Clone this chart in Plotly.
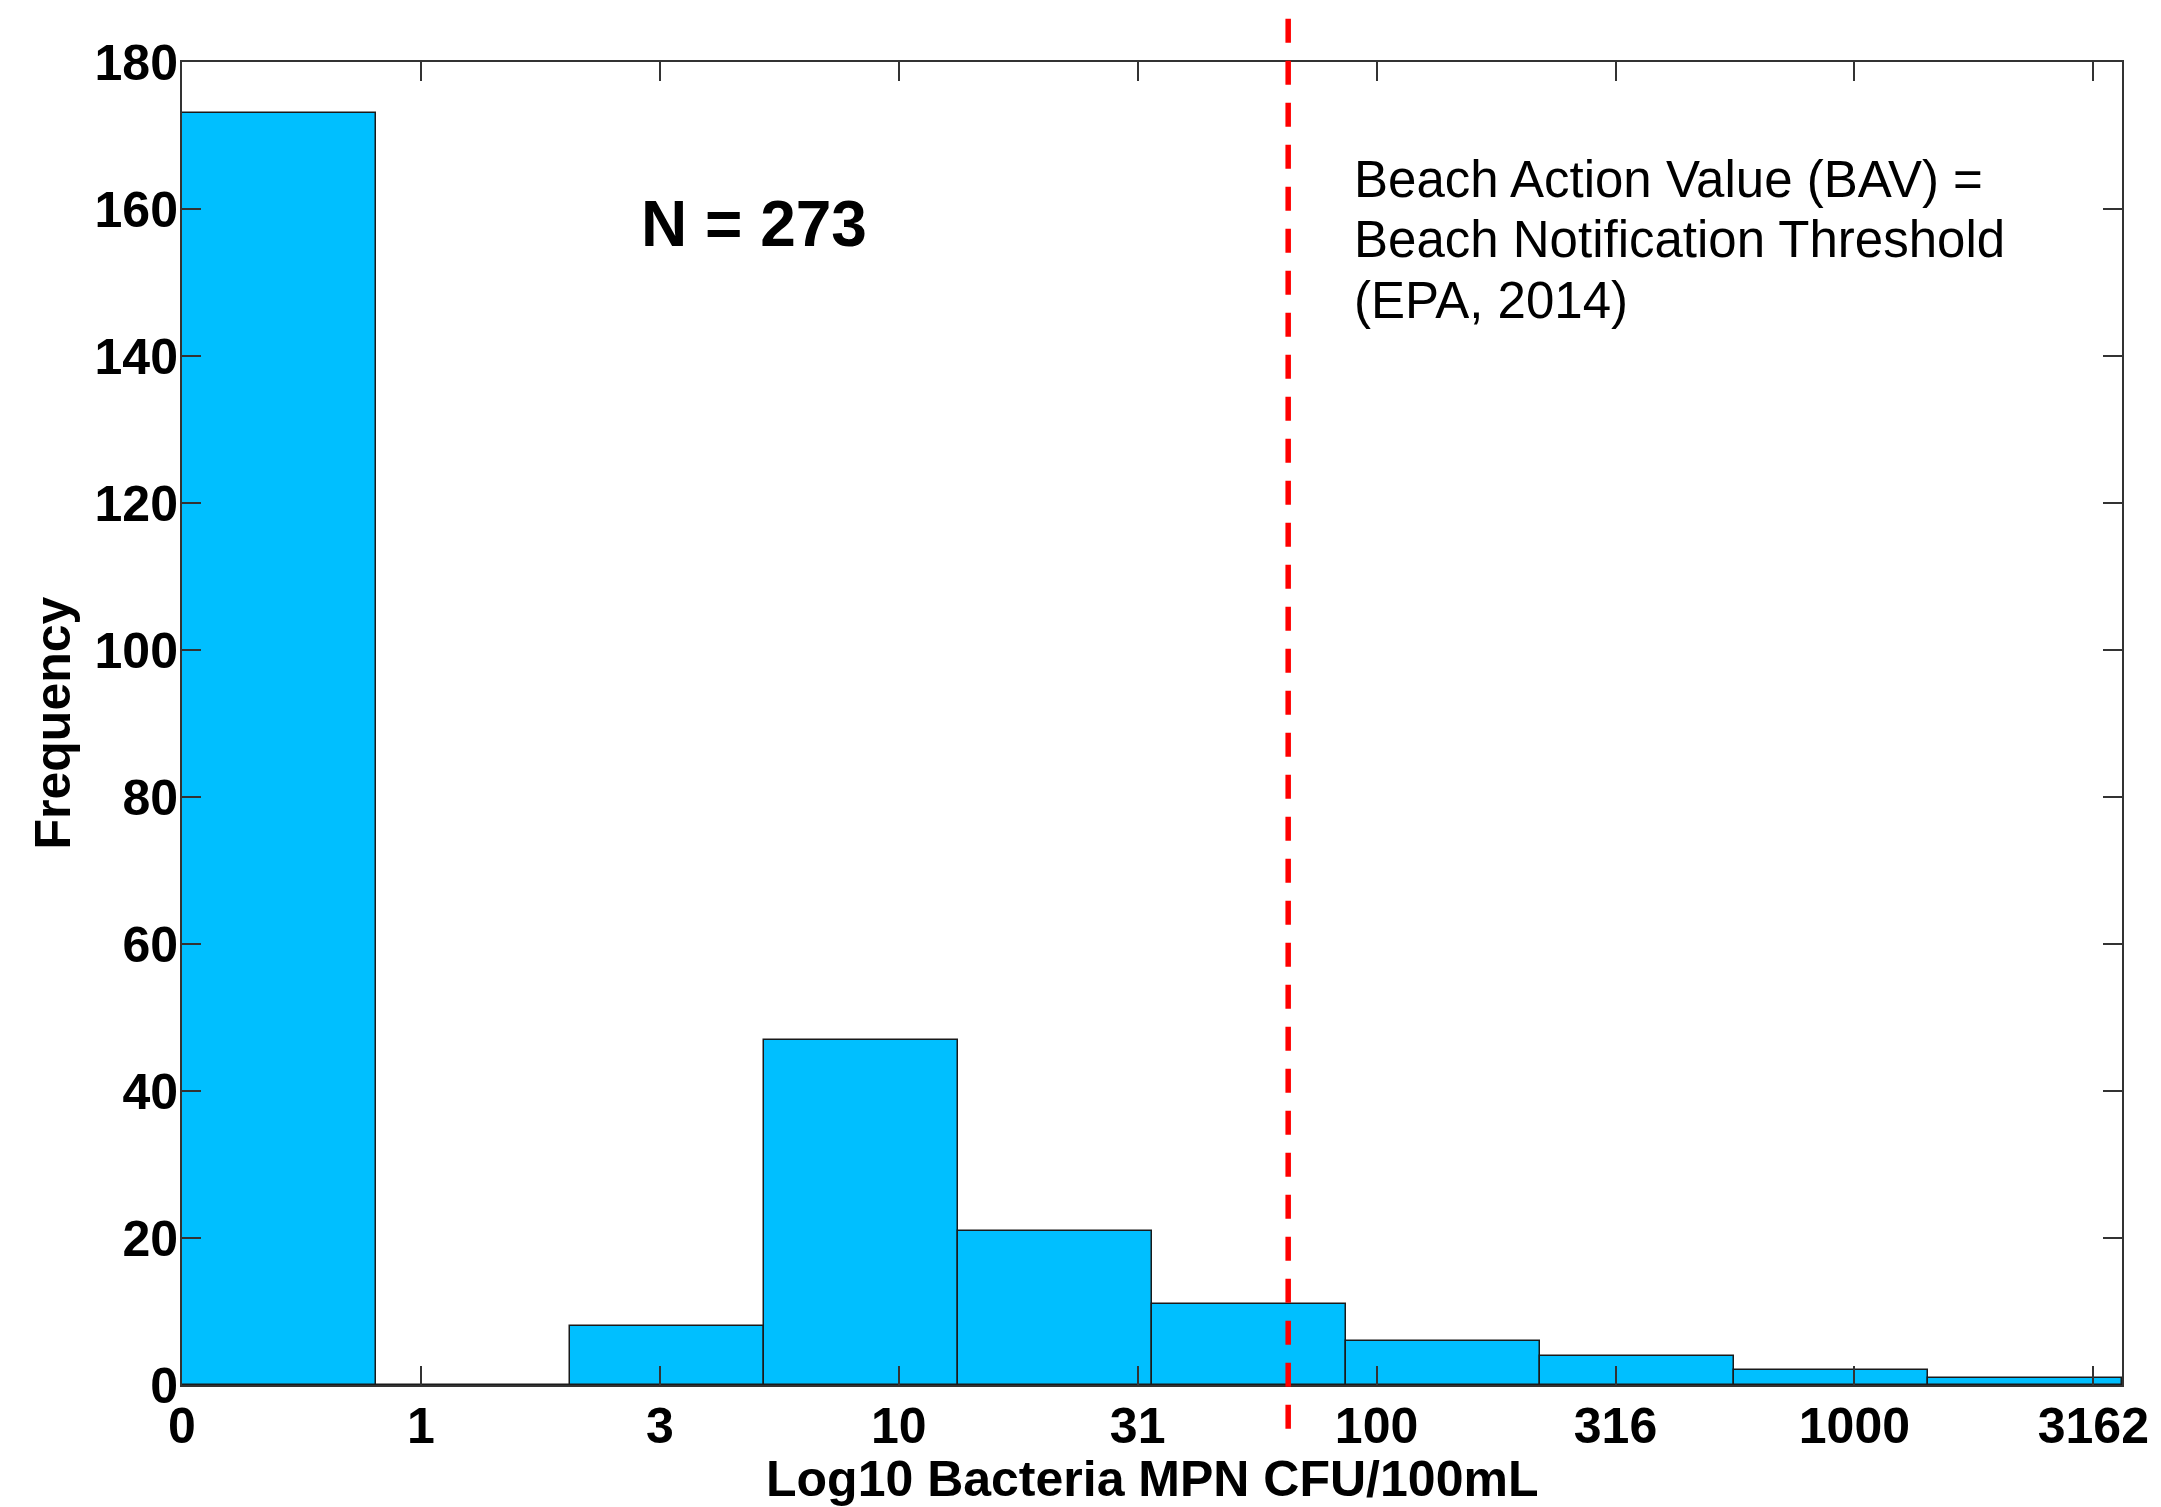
import plotly.graph_objects as go

# histogram bins (log10 axis units) and counts
bin_edges = [0.0, 0.406, 0.812, 1.218, 1.624, 2.030, 2.436, 2.842, 3.248, 3.654, 4.060]
counts = [173, 0, 8, 47, 21, 11, 6, 4, 2, 1]

x_tickvals = [0, 0.5, 1.0, 1.5, 2.0, 2.5, 3.0, 3.5, 4.0]
x_ticktext = ["0", "1", "3", "10", "31", "100", "316", "1000", "3162"]
y_tickvals = [0, 20, 40, 60, 80, 100, 120, 140, 160, 180]

bav_x = 2.315
n_label = "N = 273"
bav_lines = ["Beach Action Value (BAV) =", "Beach Notification Threshold", "(EPA, 2014)"]

centers = [(a + b) / 2 for a, b in zip(bin_edges[:-1], bin_edges[1:])]
widths = [b - a for a, b in zip(bin_edges[:-1], bin_edges[1:])]

FONT = "Liberation Sans, Arial, Helvetica, sans-serif"

W, H = 2161, 1507
L, R, T = 182, 39, 62
PLOT_H = 1323
B = H - T - PLOT_H


def paper_y(page_y):
    return 1.0 - (page_y - T) / PLOT_H


fig = go.Figure()
fig.add_trace(
    go.Bar(x=centers, y=counts, width=widths,
           marker=dict(color="#00BFFF", line=dict(color="#1a1a1a", width=1.5)),
           showlegend=False)
)

# BAV threshold line, runs a bit past the frame like the original
fig.add_shape(type="line", xref="x", yref="paper", x0=bav_x, x1=bav_x,
              y0=-0.033, y1=1.034, layer="above",
              line=dict(color="#FF0000", width=5.5, dash="24px,18px"))

fig.add_annotation(x=1.198, y=158, xref="x", yref="y", text=n_label, showarrow=False,
                   font=dict(family=FONT, size=64, color="black", weight="bold"))
for i, line in enumerate(bav_lines):
    fig.add_annotation(x=2.449, y=paper_y(179 + 61 * i), xref="x", yref="paper", text=line,
                       showarrow=False, xanchor="left", yanchor="middle", align="left",
                       font=dict(family=FONT, size=51, color="black"))

# axis titles
fig.add_annotation(x=-(182 - 52) / 1940, y=0.5, xref="paper", yref="paper", text="Frequency",
                   textangle=-90, showarrow=False, xanchor="center", yanchor="middle",
                   font=dict(family=FONT, size=50, color="black", weight="bold"))
fig.add_annotation(x=0.5, y=paper_y(1479), xref="paper", yref="paper",
                   text="Log10 Bacteria MPN CFU/100mL", showarrow=False,
                   xanchor="center", yanchor="middle",
                   font=dict(family=FONT, size=50, color="black", weight="bold"))

axis_common = dict(showline=True, linecolor="#333333", linewidth=2, mirror="ticks",
                   ticks="inside", ticklen=19, tickwidth=1.5, tickcolor="#333333",
                   showgrid=False, zeroline=False,
                   tickfont=dict(family=FONT, size=50, color="black", weight="bold"))

fig.update_layout(
    width=W, height=H, autosize=False,
    margin=dict(l=L, r=R, t=T, b=B, pad=0),
    paper_bgcolor="white", plot_bgcolor="white",
    bargap=0,
    xaxis=dict(range=[0, bin_edges[-1]], tickvals=x_tickvals, ticktext=x_ticktext,
               ticklabelstandoff=-4, **axis_common),
    yaxis=dict(range=[0, 180], tickvals=y_tickvals, ticklabelstandoff=-8, **axis_common),
)

# drop the default 8px body margin so the figure fills the window exactly
fig.write_html("out.html", config={"displayModeBar": False},
               post_script="document.body.style.margin = '0';")
